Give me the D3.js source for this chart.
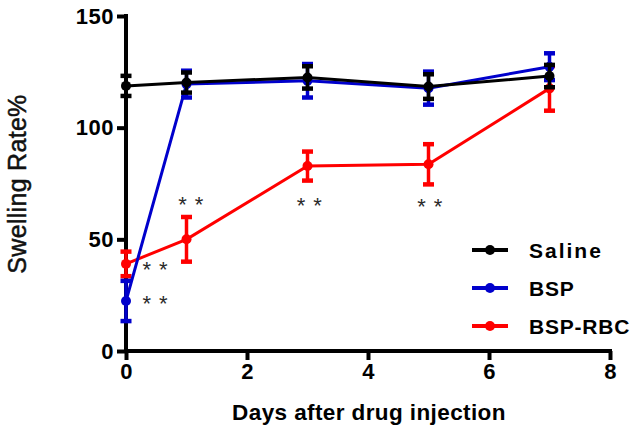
<!DOCTYPE html>
<html><head><meta charset="utf-8">
<script src="https://cdn.jsdelivr.net/npm/d3@7"></script>
<style>body{margin:0;background:#fff}svg{display:block}text{font-family:"Liberation Sans",Arial,sans-serif}</style>
</head><body><svg id="c" width="644" height="431"></svg>
<script>
const days = [0, 1, 3, 5, 7];
const salineMean = [118.7, 120.2, 122.5, 118.4, 123.1];
const salineErr  = [4.5, 4.5, 5, 5.5, 5];
const bspMean    = [22.4, 119.5, 121, 117.7, 127.3];
const bspErr     = [9, 6, 7.5, 7.4, 6];
const rbcMean    = [39, 50, 82.8, 83.6, 117.6];
const rbcErr     = [5.5, 10, 6.5, 9, 10];
const xTicks = [0, 2, 4, 6, 8];
const yTicks = [0, 50, 100, 150];
// significance marks: [x position (days), value level]
const sigMarks = [[0.48, 37.7], [0.48, 22.4], [1.07, 66.7], [3.03, 66.3], [5.02, 65.8]];

const svg = d3.select("#c");
const x = d3.scaleLinear().domain([0, 8]).range([126, 610]);
const y = d3.scaleLinear().domain([0, 150]).range([351, 16]);

const series = [
  {name:"BSP-RBC", color:"#ff0000", mean:rbcMean, err:rbcErr},
  {name:"BSP", color:"#0000cc", mean:bspMean, err:bspErr},
  {name:"Saline", color:"#000000", mean:salineMean, err:salineErr}
];

// axes
const xAxis = svg.append("g").attr("transform","translate(0,351)")
  .call(d3.axisBottom(x).tickValues(xTicks).tickSize(9).tickPadding(3).tickFormat(d3.format("d")));
const yAxis = svg.append("g").attr("transform","translate(126,0)")
  .call(d3.axisLeft(y).tickValues(yTicks).tickSize(9).tickPadding(3).tickFormat(d3.format("d")));
[xAxis, yAxis].forEach(a => {
  a.select(".domain").attr("stroke","#000").attr("stroke-width",4);
  a.selectAll(".tick line").attr("stroke","#000").attr("stroke-width",4);
  a.selectAll(".tick text").attr("fill","#000").style("font-size","22px").style("font-weight","bold")
    .style("letter-spacing","0.5px");
});
xAxis.select(".domain").attr("d","M124,0H612");
yAxis.select(".domain").attr("d","M0,353V14");

// series
const line = d3.line().x((d,i)=>x(days[i])).y(d=>y(d));
series.forEach(s => {
  const g = svg.append("g");
  g.append("path").datum(s.mean).attr("d", line).attr("fill","none")
    .attr("stroke", s.color).attr("stroke-width", 3);
  s.mean.forEach((m,i) => {
    const cx = x(days[i]);
    const top = y(m + s.err[i]), bot = y(m - s.err[i]);
    g.append("line").attr("x1",cx).attr("x2",cx).attr("y1",top).attr("y2",bot)
      .attr("stroke",s.color).attr("stroke-width",3.5);
    [top, bot].forEach(yy => g.append("line").attr("x1",cx-5.5).attr("x2",cx+5.5)
      .attr("y1",yy).attr("y2",yy).attr("stroke",s.color).attr("stroke-width",4.5));
    g.append("circle").attr("cx",cx).attr("cy",y(m)).attr("r",5).attr("fill",s.color);
  });
});

// significance marks
sigMarks.forEach(([d,v]) => {
  [-8.3, 8.3].forEach(off =>
    svg.append("text").attr("x", x(d)+off).attr("y", y(v)+10).attr("text-anchor","middle")
      .attr("fill","#2a2a2a").style("font-size","22px").text("*"));
});

// legend
const legendOrder = ["Saline","BSP","BSP-RBC"];
legendOrder.forEach((n,i) => {
  const s = series.find(t=>t.name===n);
  const ly = 250 + i*38;
  svg.append("line").attr("x1",472).attr("x2",508).attr("y1",ly).attr("y2",ly)
    .attr("stroke",s.color).attr("stroke-width",4);
  svg.append("circle").attr("cx",490).attr("cy",ly).attr("r",5).attr("fill",s.color);
  svg.append("text").attr("x",529).attr("y",ly+7.5).attr("fill","#000")
    .style("font-size","21px").style("font-weight","bold")
    .style("letter-spacing", n==="Saline"?"2px":"0.8px").text(n);
});

// axis titles
svg.append("text").attr("x", 369).attr("y", 420).attr("text-anchor","middle")
  .style("font-size","22.5px").style("font-weight","bold").style("letter-spacing","0.4px")
  .text("Days after drug injection");
svg.append("text").attr("transform","translate(26,184) rotate(-90)").attr("text-anchor","middle")
  .attr("fill","#111").style("font-size","25px").style("letter-spacing","0.3px")
  .style("stroke","#111").style("stroke-width","0.5px").text("Swelling Rate%");
</script></body></html>
